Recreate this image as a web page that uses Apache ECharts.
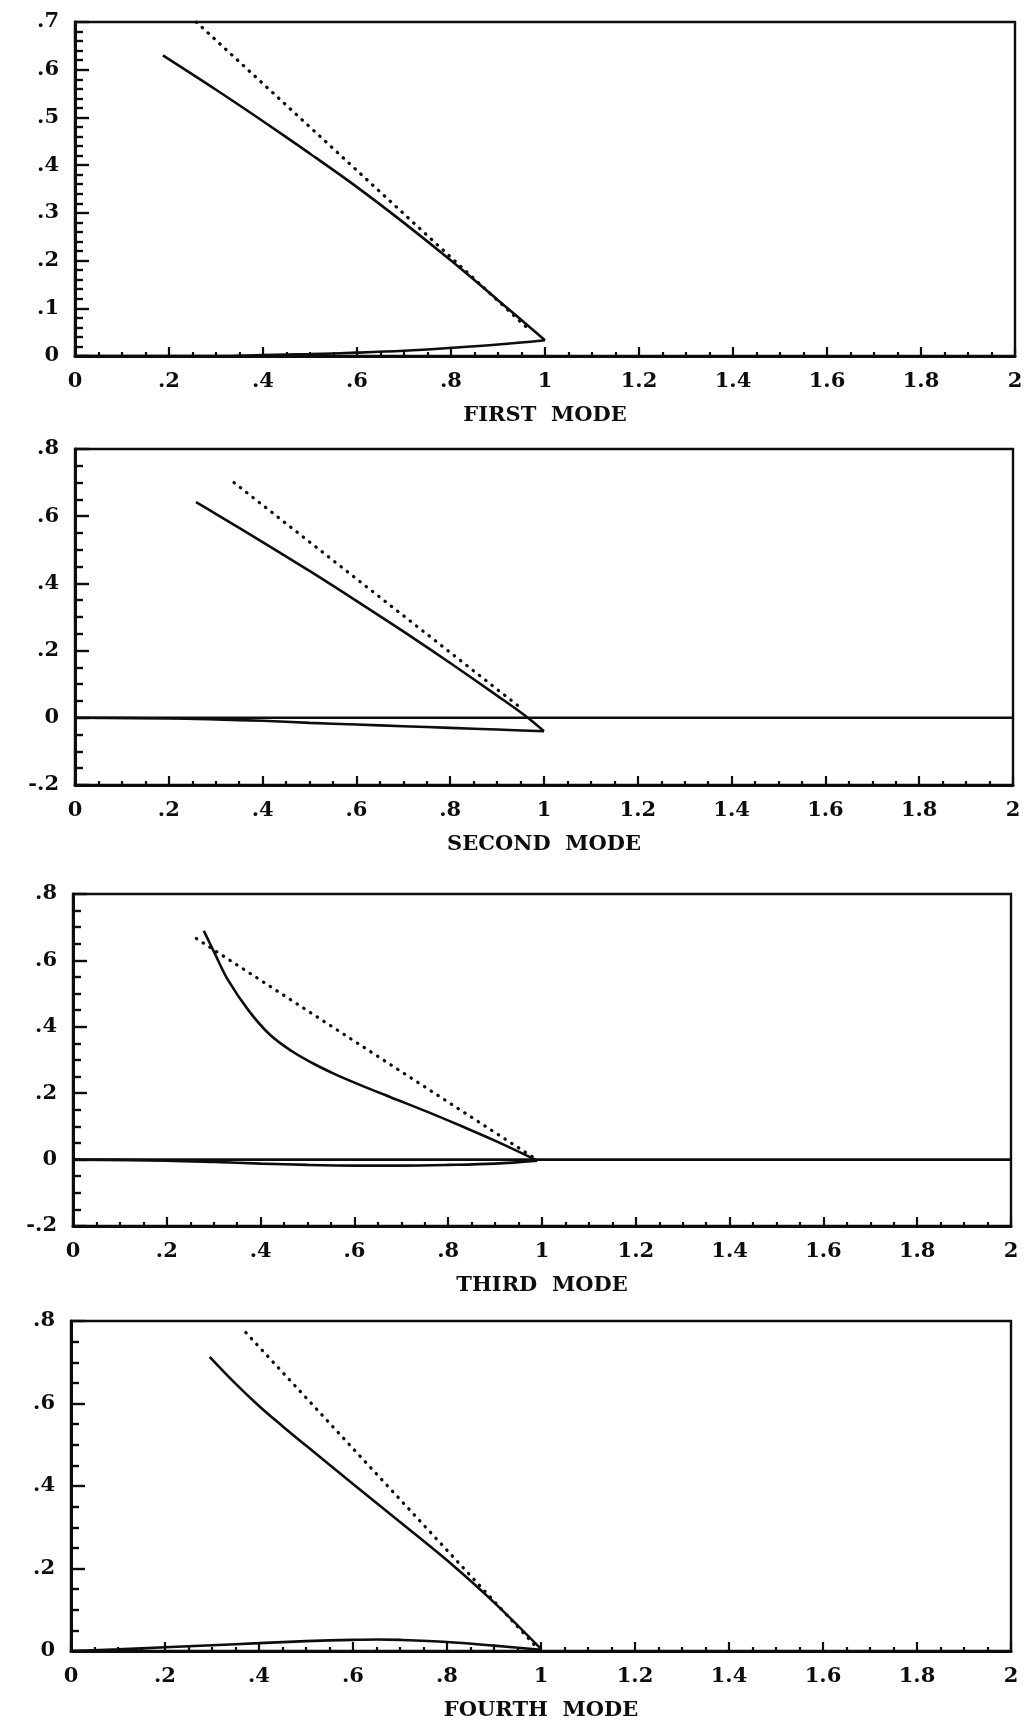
<!DOCTYPE html>
<html>
<head>
<meta charset="utf-8">
<script src="https://cdn.jsdelivr.net/npm/echarts@6/dist/echarts.min.js"></script>
<style>
  html, body { margin: 0; padding: 0; background: #fff; }
  #chart { width: 1028px; height: 1725px; }
</style>
</head>
<body>
<div id="chart"></div>
<script>
// Panel titles
const modeTitles = ['FIRST  MODE', 'SECOND  MODE', 'THIRD  MODE', 'FOURTH  MODE'];

// Tick labels
const xTickLabels = ['0', '.2', '.4', '.6', '.8', '1', '1.2', '1.4', '1.6', '1.8', '2'];
const yTickLabels1 = ['0', '.1', '.2', '.3', '.4', '.5', '.6', '.7'];
const yTickLabels23 = ['-.2', '0', '.2', '.4', '.6', '.8'];
const yTickLabels4 = ['0', '.2', '.4', '.6', '.8'];

// First mode
const mode1Upper = [[0.187, 0.630], [0.3, 0.558], [0.4, 0.492], [0.5, 0.424], [0.6, 0.354], [0.7, 0.279], [0.8, 0.200], [0.9, 0.117], [1.0, 0.033]];
const mode1Lower = [[1.0, 0.033], [0.9, 0.024], [0.8, 0.017], [0.7, 0.011], [0.6, 0.007], [0.5, 0.004], [0.4, 0.002], [0.3, 0.0], [0.0, 0.0]];
const mode1Dotted = [[0.258, 0.700], [0.96, 0.061]];

// Second mode
const mode2Upper = [[0.258, 0.642], [0.3, 0.607], [0.4, 0.523], [0.5, 0.437], [0.6, 0.348], [0.7, 0.257], [0.8, 0.163], [0.9, 0.066], [0.96, 0.006], [1.0, -0.040]];
const mode2Lower = [[1.0, -0.040], [0.9, -0.035], [0.8, -0.030], [0.7, -0.025], [0.6, -0.020], [0.5, -0.015], [0.4, -0.009], [0.3, -0.005], [0.2, -0.002], [0.0, 0.0]];
const mode2Dotted = [[0.339, 0.700], [0.95, 0.030]];
const mode2Zero = [[0.0, 0.0], [2.0, 0.0]];

// Third mode
const mode3Upper = [[0.279, 0.689], [0.303, 0.619], [0.33, 0.542], [0.375, 0.448], [0.42, 0.376], [0.466, 0.327], [0.51, 0.291], [0.556, 0.259], [0.6, 0.232], [0.677, 0.188], [0.752, 0.146], [0.828, 0.101], [0.903, 0.055], [0.99, -0.003]];
const mode3Lower = [[0.99, -0.003], [0.9, -0.012], [0.8, -0.016], [0.7, -0.018], [0.6, -0.018], [0.5, -0.016], [0.4, -0.012], [0.3, -0.007], [0.2, -0.003], [0.0, 0.0]];
const mode3Dotted = [[0.263, 0.666], [0.98, 0.008]];
const mode3Zero = [[0.0, 0.0], [2.0, 0.0]];

// Fourth mode
const mode4Upper = [[0.295, 0.713], [0.35, 0.648], [0.4, 0.594], [0.45, 0.545], [0.5, 0.498], [0.6, 0.405], [0.7, 0.313], [0.8, 0.220], [0.9, 0.118], [1.0, 0.005]];
const mode4Lower = [[0.0, 0.0], [0.1, 0.004], [0.2, 0.009], [0.3, 0.014], [0.4, 0.019], [0.5, 0.024], [0.6, 0.027], [0.65, 0.028], [0.7, 0.027], [0.8, 0.022], [0.9, 0.013], [1.0, 0.003]];
const mode4Dotted = [[0.372, 0.772], [0.99, 0.010]];

const FONT = 'DejaVu Serif';
const INK = '#0d0d0d';

const grids = [
  { left: 75, top: 22, width: 940, height: 334 },
  { left: 75, top: 449, width: 938, height: 336 },
  { left: 73, top: 894, width: 938, height: 332 },
  { left: 71, top: 1321, width: 940, height: 330 }
];

const yRanges = [
  { min: 0, max: 0.7, interval: 0.1, labels: yTickLabels1, minor: 5 },
  { min: -0.2, max: 0.8, interval: 0.2, labels: yTickLabels23, minor: 4 },
  { min: -0.2, max: 0.8, interval: 0.2, labels: yTickLabels23, minor: 4 },
  { min: 0, max: 0.8, interval: 0.2, labels: yTickLabels4, minor: 4 }
];

function labelFrom(labels, min, interval) {
  return function (v) {
    const i = Math.round((v - min) / interval);
    return labels[i] !== undefined ? labels[i] : '';
  };
}

const xAxes = grids.map((g, i) => ({
  type: 'value', gridIndex: i, min: 0, max: 2, interval: 0.2,
  name: modeTitles[i], nameLocation: 'middle', nameGap: 49,
  nameTextStyle: { fontFamily: FONT, fontWeight: 'bold', fontSize: 21, color: INK },
  axisLine: { show: true, onZero: false, lineStyle: { color: INK, width: 3 } },
  axisTick: { show: true, inside: true, length: 9, lineStyle: { color: INK, width: 2.2 } },
  minorTick: { show: true, splitNumber: 4, length: 4, lineStyle: { color: INK, width: 2.2 } },
  splitLine: { show: false },
  axisLabel: {
    margin: 15, fontFamily: FONT, fontWeight: 'bold', fontSize: 21, color: INK,
    formatter: labelFrom(xTickLabels, 0, 0.2)
  }
}));

const yAxes = yRanges.map((r, i) => ({
  type: 'value', gridIndex: i, min: r.min, max: r.max, interval: r.interval,
  axisLine: { show: true, onZero: false, lineStyle: { color: INK, width: 3 } },
  axisTick: { show: true, inside: true, length: 14, lineStyle: { color: INK, width: 2.4 } },
  minorTick: { show: true, splitNumber: r.minor, length: 8, lineStyle: { color: INK, width: 2.4 } },
  splitLine: { show: false },
  axisLabel: {
    margin: 16, fontFamily: FONT, fontWeight: 'bold', fontSize: 21, color: INK,
    formatter: labelFrom(r.labels, r.min, r.interval)
  }
}));

function solid(data, idx) {
  return {
    type: 'line', xAxisIndex: idx, yAxisIndex: idx, data: data,
    showSymbol: false, smooth: 0.35, silent: true,
    lineStyle: { color: INK, width: 2.6 }
  };
}
function dotted(data, idx) {
  return {
    type: 'line', xAxisIndex: idx, yAxisIndex: idx, data: data,
    showSymbol: false, silent: true,
    lineStyle: { color: INK, width: 3.2, type: [0.5, 7.5], cap: 'round' }
  };
}

const series = [
  solid(mode1Upper, 0), solid(mode1Lower, 0), dotted(mode1Dotted, 0),
  solid(mode2Zero, 1), solid(mode2Upper, 1), solid(mode2Lower, 1), dotted(mode2Dotted, 1),
  solid(mode3Zero, 2), solid(mode3Upper, 2), solid(mode3Lower, 2), dotted(mode3Dotted, 2),
  solid(mode4Upper, 3), solid(mode4Lower, 3), dotted(mode4Dotted, 3)
];

const chart = echarts.init(document.getElementById('chart'), null, { renderer: 'canvas' });
chart.setOption({
  backgroundColor: '#fff',
  animation: false,
  grid: grids.map(g => Object.assign({
    show: true, borderColor: INK, borderWidth: 2.4, backgroundColor: 'transparent',
    outerBoundsMode: 'none', containLabel: false
  }, g)),
  xAxis: xAxes,
  yAxis: yAxes,
  series: series
});
</script>
</body>
</html>
